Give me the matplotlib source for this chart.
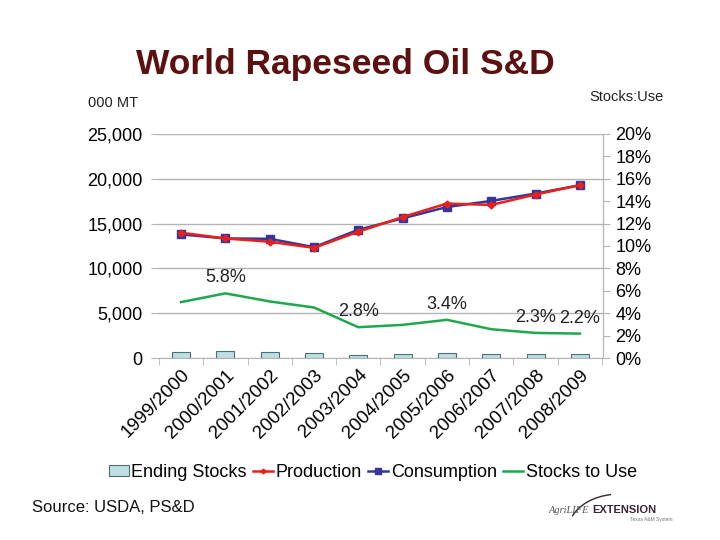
import matplotlib
matplotlib.use("Agg")
import matplotlib.pyplot as plt
import numpy as np
from matplotlib.patches import Arc

plt.rcParams['font.family'] = ['Liberation Sans', 'DejaVu Sans']

years = ["1999/2000", "2000/2001", "2001/2002", "2002/2003", "2003/2004",
         "2004/2005", "2005/2006", "2006/2007", "2007/2008", "2008/2009"]
ending_stocks = [690, 770, 620, 520, 390, 460, 570, 450, 410, 420]
production = [13980, 13340, 12970, 12290, 14090, 15730, 17230, 17080, 18240, 19280]
consumption = [13790, 13340, 13300, 12370, 14310, 15580, 16850, 17530, 18350, 19280]
stocks_to_use = [4.99, 5.77, 5.05, 4.51, 2.75, 2.96, 3.41, 2.57, 2.24, 2.18]
label_idx = [1, 4, 6, 8, 9]
label_txt = ["5.8%", "2.8%", "3.4%", "2.3%", "2.2%"]

left_ticks = [0, 5000, 10000, 15000, 20000, 25000]
right_ticks = [0, 2, 4, 6, 8, 10, 12, 14, 16, 18, 20]

fig = plt.figure(figsize=(7.2, 5.4), dpi=100)
ax = fig.add_axes([0.2194, 0.337, 0.6181, 0.415])
x = np.arange(len(years))

b = ax.bar(x, ending_stocks, width=0.41, color="#bcdfe2", edgecolor="#4f6f72",
           linewidth=0.8, zorder=2, label="Ending Stocks")
lp, = ax.plot(x, production, color="#e8201c", lw=1.8, marker="D", ms=3.5,
              zorder=4, label="Production")
lc, = ax.plot(x, consumption, color="#36369a", lw=1.8, marker="s", ms=6,
              zorder=3, label="Consumption")

ax.set_xlim(-0.52, len(years) - 0.48)
ax.set_ylim(0, 25000)
ax.set_yticks(left_ticks)
ax.set_yticklabels([f"{v:,}" for v in left_ticks], fontsize=13)
ax.yaxis.grid(True, color="#b4b4b4", lw=1)
ax.set_axisbelow(True)
ax.tick_params(axis="y", length=5, color="#b4b4b4", pad=6)
ax.set_xticks(x)
ax.set_xticklabels(years, rotation=45, ha="right", rotation_mode="anchor",
                   fontsize=13.5)
ax.tick_params(axis="x", length=0, pad=6)
ax.set_xticks(np.arange(-0.5, len(years)), minor=True)
ax.tick_params(axis="x", which="minor", length=5, color="#b4b4b4")
for s in ["top", "left"]:
    ax.spines[s].set_visible(False)
ax.spines["bottom"].set_color("#b4b4b4")
ax.spines["right"].set_color("#b4b4b4")

ax2 = ax.twinx()
ls, = ax2.plot(x, stocks_to_use, color="#1ea84e", lw=1.8, label="Stocks to Use")
ax2.set_ylim(0, 20)
ax2.set_yticks(right_ticks)
ax2.set_yticklabels([f"{v}%" for v in right_ticks], fontsize=13)
ax2.tick_params(axis="y", length=5, color="#b4b4b4", pad=4)
for s in ["top", "left", "bottom"]:
    ax2.spines[s].set_visible(False)
ax2.spines["right"].set_color("#b4b4b4")
for i, t in zip(label_idx, label_txt):
    ax2.annotate(t, (x[i], stocks_to_use[i]), xytext=(0, 5),
                 textcoords="offset points", ha="center", va="bottom",
                 fontsize=13, color="#222222")

fig.legend([b, lp, lc, ls], ["Ending Stocks", "Production", "Consumption",
                             "Stocks to Use"],
           loc="center", bbox_to_anchor=(0.518, 0.125),
           ncol=4, frameon=False, fontsize=13, handlelength=1.1,
           handleheight=0.6, handletextpad=0.15, columnspacing=0.35,
           markerscale=0.7)

fig.text(0.479, 0.880, "World Rapeseed Oil S&D", ha="center", va="center",
         fontsize=25.5, fontweight="bold", color="#5c1010")
fig.text(0.122, 0.809, "000 MT", ha="left", va="center", fontsize=10.5,
         color="#222222")
fig.text(0.818, 0.820, "Stocks:Use", ha="left", va="center", fontsize=10.5,
         color="#222222")
fig.text(0.044, 0.061, "Source: USDA, PS&D", ha="left", va="center",
         fontsize=12, color="#111111")

fig.text(0.818, 0.055, "AgriLIFE", ha="right", va="center", fontsize=7.5,
         style="italic", color="#555555", family="Liberation Serif")
fig.text(0.822, 0.055, "EXTENSION", ha="left", va="center", fontsize=8,
         fontweight="bold", color="#3a2530")
fig.text(0.905, 0.038, "Texas A&M System", ha="center", va="center",
         fontsize=3.5, color="#777777")
arc = Arc((0.86, 0.02), 0.14, 0.13, theta1=100, theta2=160,
          transform=fig.transFigure, color="#3a2530", lw=1)
fig.add_artist(arc)

fig.savefig("out.png", dpi=100)
